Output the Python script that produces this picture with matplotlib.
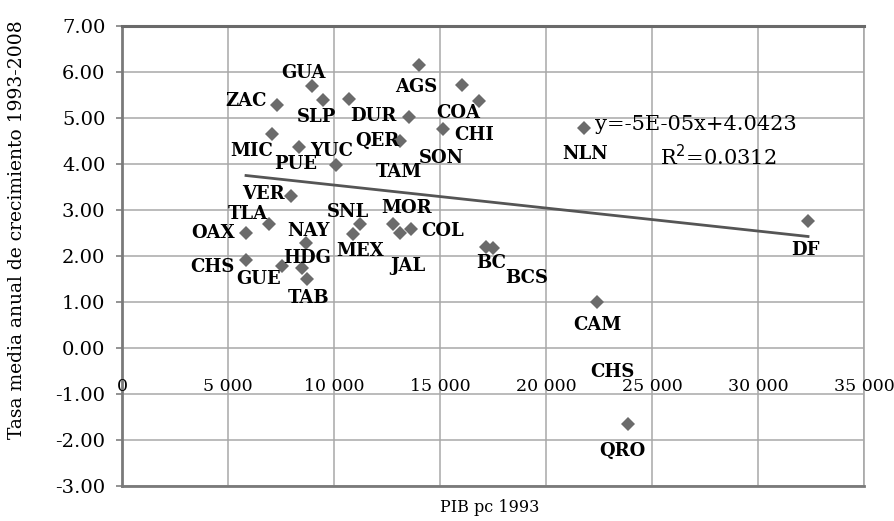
import matplotlib
matplotlib.use("Agg")
import matplotlib.pyplot as plt
from matplotlib.transforms import blended_transform_factory

# estados y valores
estados = ["GUA", "ZAC", "SLP", "DUR", "AGS", "COA", "CHI", "QER", "SON", "MIC",
           "PUE", "YUC", "TAM", "VER", "TLA", "OAX", "NAY", "CHS", "GUE", "HDG",
           "TAB", "SNL", "MEX", "MOR", "JAL", "COL", "BC", "BCS", "NLN", "DF",
           "CAM", "QRO"]
pib_1993 = [8960, 7310, 9480, 10710, 14010, 16040, 16840, 13540, 15140, 7080,
            8350, 10090, 13110, 7970, 6930, 5850, 8680, 5850, 7550, 8490,
            8730, 11230, 10900, 12780, 13110, 13630, 17170, 17500, 21790, 32360,
            22410, 23870]
tasa = [5.70, 5.28, 5.39, 5.41, 6.15, 5.72, 5.37, 5.02, 4.76, 4.65,
        4.37, 3.98, 4.50, 3.30, 2.70, 2.50, 2.28, 1.91, 1.78, 1.74,
        1.50, 2.70, 2.48, 2.70, 2.50, 2.59, 2.20, 2.17, 4.78, 2.76,
        1.00, -1.65]

# posicion de cada etiqueta respecto a su punto (pixeles)
offsets = [(-8, 13), (-31, 4), (-6, -17), (24, -17), (-3, -22), (-4, -28), (-5, -34),
           (-32, -24), (-2, -29), (-20, -17), (-3, -17), (-4, 14), (-1, -31),
           (-28, 2), (-21, 10), (-33, 0), (2, 12), (-34, -7), (-23, -13), (5, 10),
           (1, -19), (-12, 12), (7, -17), (14, 16), (8, -33), (32, -2), (5, -16),
           (34, -30), (1, -26), (-3, -29), (0, -23), (-6, -27)]

# tendencia lineal (Excel)
pendiente = -5e-05
ordenada = 4.0423
r2 = 0.0312

x_ticks = [0, 5000, 10000, 15000, 20000, 25000, 30000, 35000]
x_tick_labels = ["0", "5 000", "10 000", "15 000", "20 000", "25 000", "30 000", "35 000"]
y_ticks = [-3, -2, -1, 0, 1, 2, 3, 4, 5, 6, 7]

plt.rcParams['font.family'] = ['DejaVu Serif']

fig = plt.figure(figsize=(8.95, 5.21), dpi=100)
ax = fig.add_axes([122 / 895, 35 / 521, 742 / 895, 460 / 521])

ax.set_xlim(0, 35000)
ax.set_ylim(-3, 7)
ax.set_xticks(x_ticks)
ax.set_yticks(y_ticks)
ax.set_yticklabels(["%.2f" % v for v in y_ticks], fontsize=14)
ax.set_xticklabels([])
ax.tick_params(axis='x', length=0)
ax.tick_params(axis='y', length=4, width=1.2, color='#808080', pad=8)
ax.grid(True, color='#a8a8a8', linewidth=1.1)
ax.set_axisbelow(True)

for s in ['left', 'bottom']:
    ax.spines[s].set_color('#7a7a7a')
    ax.spines[s].set_linewidth(2)
ax.spines['top'].set_color('#6a6a6a')
ax.spines['top'].set_linewidth(2.2)
ax.spines['right'].set_color('#a8a8a8')
ax.spines['right'].set_linewidth(1.2)

# etiquetas del eje x cerca de y=0
tr = blended_transform_factory(ax.transData, ax.transData)
for xv, lab in zip(x_ticks, x_tick_labels):
    ax.text(xv, -0.83, lab, transform=tr, ha='center', va='center', fontsize=12.5)

# linea de tendencia
xmin, xmax = min(pib_1993), max(pib_1993)
ax.plot([xmin, xmax], [pendiente * xmin + ordenada, pendiente * xmax + ordenada],
        color='#555555', linewidth=2, zorder=2)

ax.plot(pib_1993, tasa, linestyle='none', marker='D', markersize=7.5,
        color='#6b6b6b', markeredgewidth=0, zorder=3)

for nom, xv, yv, off in zip(estados, pib_1993, tasa, offsets):
    ax.annotate(nom, (xv, yv), xytext=off, textcoords='offset pixels',
                ha='center', va='center', fontsize=13, fontweight='bold', zorder=4)

# etiqueta extra que aparece en la grafica original junto a CAM
i_cam = estados.index("CAM")
ax.annotate("CHS", (pib_1993[i_cam], tasa[i_cam]), xytext=(15, -70),
            textcoords='offset pixels', ha='center', va='center',
            fontsize=13, fontweight='bold', zorder=4)

ax.text(0.637, 0.785, "y=-5E-05x+4.0423", transform=ax.transAxes,
        ha='left', va='center', fontsize=15)
ax.text(0.725, 0.717, "R$^2$=0.0312", transform=ax.transAxes,
        ha='left', va='center', fontsize=15)

fig.text(17 / 895, 1 - 230 / 521, "Tasa media anual de crecimiento 1993-2008",
         rotation=90, ha='center', va='center', fontsize=13.5)
fig.text(490 / 895, 1 - 507 / 521, "PIB pc 1993", ha='center', va='center', fontsize=11.5)

fig.savefig("out.png", dpi=100, facecolor='white')
